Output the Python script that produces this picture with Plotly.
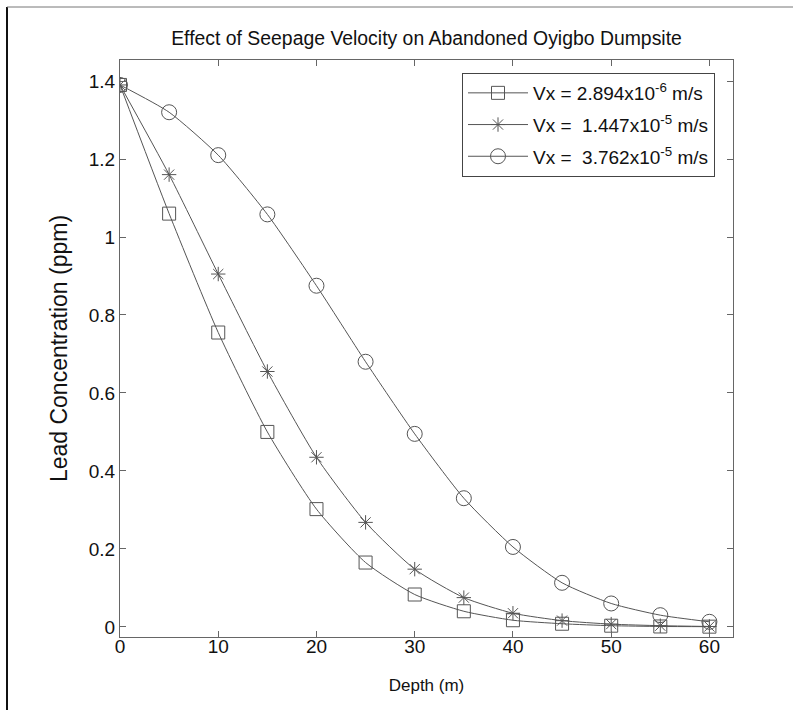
import plotly.graph_objects as go

depth = [0, 5, 10, 15, 20, 25, 30, 35, 40, 45, 50, 55, 60]
conc_v1 = [1.39, 1.06, 0.755, 0.50, 0.302, 0.165, 0.083, 0.040, 0.017, 0.008, 0.003, 0.001, 0.0005]
conc_v2 = [1.39, 1.16, 0.905, 0.655, 0.435, 0.268, 0.148, 0.075, 0.035, 0.016, 0.007, 0.003, 0.001]
conc_v3 = [1.39, 1.32, 1.21, 1.058, 0.875, 0.68, 0.495, 0.33, 0.205, 0.113, 0.06, 0.03, 0.013]
names = ["Vx = 2.894x10<sup>-6</sup> m/s",
         "Vx =  1.447x10<sup>-5</sup> m/s",
         "Vx =  3.762x10<sup>-5</sup> m/s"]
symbols = ["square-open", "asterisk-open", "circle-open"]
sizes = [13, 12, 15]

W, H = 793, 710
L, R, T, B = 120, 60, 60, 73
pw, ph = W - L - R, H - T - B
FONT = "Liberation Sans"

fig = go.Figure()
for i, (y, n, s, sz) in enumerate(zip([conc_v1, conc_v2, conc_v3], names, symbols, sizes)):
    fig.add_trace(go.Scatter(
        x=depth, y=y, name=n, mode="lines+markers", legendgroup=f"g{i}",
        line=dict(color="#555555", width=1, shape="spline", smoothing=0.6),
        marker=dict(symbol=s, size=sz, color="#555555", line=dict(width=1, color="#555555")),
    ))

axis_common = dict(
    showline=True, linecolor="#666666", linewidth=1, mirror="ticks",
    ticks="inside", ticklen=6, tickcolor="#666666", showgrid=False, zeroline=False,
    tickfont=dict(family=FONT, size=19, color="#111111"),
)

fig.update_layout(
    width=W, height=H,
    margin=dict(l=L, r=R, t=T, b=B),
    paper_bgcolor="white", plot_bgcolor="white",
    title=dict(text="Effect of Seepage Velocity on Abandoned Oyigbo Dumpsite",
               x=(L + pw / 2) / W, xanchor="center", y=1 - 38 / H, yanchor="middle",
               font=dict(family=FONT, size=19.4, color="#111111")),
    xaxis=dict(range=[0, 62.4], tickvals=[0, 10, 20, 30, 40, 50, 60],
               ticklabelstandoff=-8,
               title=dict(text="Depth (m)", font=dict(family=FONT, size=17, color="#111111"), standoff=23),
               **axis_common),
    yaxis=dict(range=[-0.026, 1.454], tickvals=[0, 0.2, 0.4, 0.6, 0.8, 1, 1.2, 1.4],
               ticktext=["0", "0.2", "0.4", "0.6", "0.8", "1", "1.2", "1.4"],
               title=dict(text="Lead Concentration (ppm)", font=dict(family=FONT, size=23, color="#111111"), standoff=14),
               **axis_common),
    legend=dict(x=(462 - L) / pw, xanchor="left", y=1 - (73 - T) / ph, yanchor="top",
                bgcolor="white", bordercolor="#444444", borderwidth=1,
                font=dict(family=FONT, size=19, color="#111111"),
                itemwidth=60, tracegroupgap=4),
    showlegend=True,
    shapes=[
        dict(type="line", xref="paper", yref="paper",
             x0=(7 - L) / pw, x1=(7 - L) / pw, y0=1 + (T - 7) / ph, y1=-(B) / ph,
             line=dict(color="#111111", width=2)),
        dict(type="line", xref="paper", yref="paper",
             x0=(7 - L) / pw, x1=(W - L) / pw, y0=1 + (T - 7) / ph, y1=1 + (T - 7) / ph,
             line=dict(color="#777777", width=1)),
    ],
)

fig.write_html("out.html")
